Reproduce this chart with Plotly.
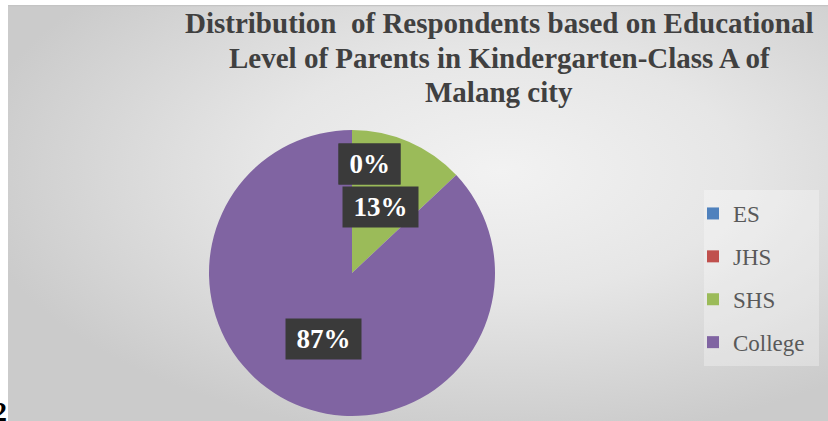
import base64
import math
import plotly.graph_objects as go

# data
categories = ["ES", "JHS", "SHS", "College"]
shares = [0, 0, 13, 87]  # percent of respondents
colors = ["#4f81bd", "#c0504d", "#9bbb59", "#8064a2"]

title_lines = [
    "Distribution\u00a0 of Respondents based on Educational",
    "Level of Parents in Kindergarten-Class A of",
    "Malang city",
]

W, H = 828, 421
cx, cy, R = 352, 273, 143  # pie centre / radius in pixels


def px(x):
    return x / W


def py(y):
    return 1 - y / H


# soft radial gradient behind the chart (Excel style)
svg = ("<svg xmlns='http://www.w3.org/2000/svg' width='820' height='416' viewBox='0 0 820 416'>"
       "<defs><radialGradient id='g' cx='0.6' cy='0.4' r='0.65'>"
       "<stop offset='0' stop-color='#f2f2f2'/>"
       "<stop offset='0.45' stop-color='#e6e6e6'/>"
       "<stop offset='1' stop-color='#cbcbcb'/>"
       "</radialGradient></defs>"
       "<rect width='820' height='416' fill='url(#g)'/>"
       "<line x1='0' y1='0.5' x2='820' y2='0.5' stroke='#c4c4c4' stroke-width='1.5'/>"
       "</svg>")
bg_uri = "data:image/svg+xml;base64," + base64.b64encode(svg.encode()).decode()

fig = go.Figure()
fig.add_trace(go.Pie(
    labels=categories,
    values=shares,
    marker=dict(colors=colors, line=dict(width=0)),
    sort=False,
    direction="clockwise",
    rotation=0,
    textinfo="none",
    showlegend=False,
    domain=dict(x=[px(cx - R), px(cx + R)], y=[py(cy + R), py(cy - R)]),
))

# legend entries (separate traces so the items can be spaced out)
for cat, col in zip(categories, colors):
    fig.add_trace(go.Scatter(
        x=[None], y=[None], mode="markers", name=cat, legendgroup=cat,
        marker=dict(symbol="square", size=12, color=col),
    ))

# data labels in dark boxes, placed at the middle of each slice
total = sum(shares)
cum = 0
for cat, v in zip(categories, shares):
    ang = 2 * math.pi * (cum + v / 2) / total
    r = 0.5 * R
    if v == 0:  # Excel nudges the empty-slice label out of the way
        r = 0.77 * R
        ang += math.radians(9)
    x = cx + r * math.sin(ang)
    y = cy - r * math.cos(ang)
    fig.add_annotation(
        x=px(x), y=py(y), xref="paper", yref="paper",
        xanchor="center", yanchor="middle",
        text=f"\u2009{round(100 * v / total)}%\u2009", showarrow=False,
        font=dict(family="Liberation Serif", size=27, color="white", weight="bold"),
        bgcolor="#3a3a3a", borderpad=5,
    )
    cum += v

# title, one line per annotation to keep the tight line spacing
for i, line in enumerate(title_lines):
    fig.add_annotation(
        x=px(499), y=py(23 + 34.5 * i), xref="paper", yref="paper",
        xanchor="center", yanchor="middle", text=line, showarrow=False,
        font=dict(family="Liberation Serif", size=29, color="#404040", weight="bold"),
    )

fig.add_annotation(
    x=px(9), y=0, xref="paper", yref="paper", xanchor="right", yanchor="bottom",
    text="2", showarrow=False, yshift=-8,
    font=dict(family="Liberation Serif", size=28, color="black", weight="bold"),
)

fig.update_layout(
    width=W, height=H,
    margin=dict(l=0, r=0, t=0, b=0),
    paper_bgcolor="white",
    plot_bgcolor="rgba(0,0,0,0)",
    xaxis=dict(visible=False),
    yaxis=dict(visible=False),
    legend=dict(
        x=px(693), y=py(192), xanchor="left", yanchor="top",
        bgcolor="rgba(0,0,0,0)", traceorder="grouped", tracegroupgap=10,
        font=dict(family="Liberation Serif", size=23, color="#595959"),
    ),
    images=[dict(
        source=bg_uri, xref="paper", yref="paper", x=px(8), y=py(5),
        sizex=px(828) - px(8), sizey=py(5), xanchor="left", yanchor="top",
        sizing="stretch", layer="below",
    )],
    shapes=[dict(
        type="rect", xref="paper", yref="paper",
        x0=px(704), x1=px(819), y0=py(366), y1=py(190),
        fillcolor="rgba(255,255,255,0.3)", line=dict(width=0), layer="below",
    )],
)

fig.write_html("out.html", config={"displayModeBar": False},
               post_script="document.body.style.margin = '0';")
